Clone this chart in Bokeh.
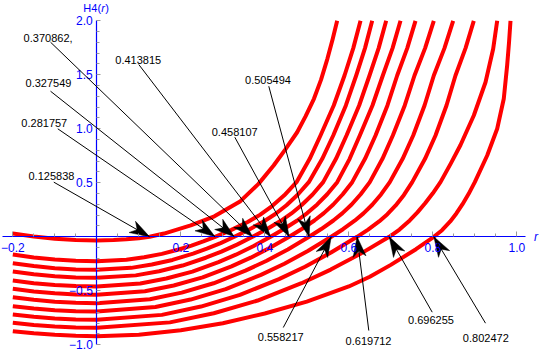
import math
from bokeh.plotting import figure
from bokeh.models import Range1d, LinearAxis, FixedTicker, Label, Arrow, ColumnDataSource
from bokeh.embed import file_html
from bokeh.resources import INLINE

# ---------------- data ----------------
roots = [0.125838, 0.281757, 0.327549, 0.370862, 0.413815, 0.458107,
         0.505494, 0.558217, 0.619712, 0.696255, 0.802472]
root_text = ["0.125838", "0.281757", "0.327549", "0.370862,", "0.413815", "0.458107",
             "0.505494", "0.558217", "0.619712", "0.696255", "0.802472"]

c1_r = [-0.2, -0.15, -0.1, -0.05, 0.0, 0.04, 0.07, 0.1, 0.125838,
        0.16, 0.2236, 0.28, 0.342, 0.385, 0.421, 0.449, 0.477, 0.497, 0.517, 0.534, 0.549, 0.5615, 0.5723]
c1_h = [0.03, 0.002, -0.018, -0.030, -0.034, -0.0306, -0.0235, -0.0126, 0.0,
        0.03, 0.105, 0.19, 0.33, 0.49, 0.66, 0.81, 0.968, 1.115, 1.278, 1.455, 1.648, 1.83, 2.0]

c2_r = [-0.2, -0.15, -0.1, -0.05, 0.0, 0.0704, 0.1127, 0.155, 0.1972, 0.2254, 0.2536, 0.281757,
        0.3205, 0.3593, 0.3883, 0.4174, 0.4464, 0.4755, 0.5069, 0.5326, 0.5641, 0.5898, 0.6107, 0.6279]
c2_h = [-0.164, -0.191, -0.2105, -0.222, -0.226, -0.2124, -0.1898, -0.1582, -0.1153, -0.0814, -0.0429, 0.0,
        0.064, 0.137, 0.203, 0.285, 0.384, 0.506, 0.722, 0.938, 1.216, 1.4935, 1.747, 2.0]

c3_r = [-0.2, -0.15, -0.1, -0.05, 0.0, 0.0819, 0.131, 0.1802, 0.2293, 0.262, 0.2948, 0.327549,
        0.363, 0.3984, 0.425, 0.4516, 0.4782, 0.5048, 0.5368, 0.5629, 0.593, 0.6176, 0.6386, 0.6557]
c3_h = [-0.244, -0.2711, -0.2905, -0.3021, -0.306, -0.2876, -0.257, -0.2142, -0.1561, -0.1102, -0.0581, 0.0,
        0.068, 0.144, 0.211, 0.292, 0.389, 0.506, 0.722, 0.938, 1.216, 1.4935, 1.747, 2.0]

c4_r = [-0.2, -0.15, -0.1, -0.05, 0.0, 0.0927, 0.1483, 0.204, 0.2596, 0.2967, 0.3338, 0.370862,
        0.4045, 0.4381, 0.4634, 0.4886, 0.5138, 0.539, 0.5695, 0.5945, 0.6246, 0.6493, 0.6711, 0.689]
c4_h = [-0.321, -0.3468, -0.3653, -0.3763, -0.380, -0.3572, -0.3192, -0.266, -0.1938, -0.1368, -0.0722, 0.0,
        0.070, 0.148, 0.216, 0.297, 0.392, 0.506, 0.722, 0.938, 1.216, 1.4935, 1.747, 2.0]

c5_r = [-0.2, -0.15, -0.1, -0.05, 0.0, 0.1035, 0.1655, 0.2276, 0.2897, 0.3311, 0.3724, 0.413815,
        0.4455, 0.4772, 0.501, 0.5248, 0.5486, 0.5724, 0.602, 0.6262, 0.6563, 0.681, 0.7042, 0.7231]
c5_h = [-0.405, -0.4291, -0.4463, -0.4566, -0.460, -0.4324, -0.3864, -0.322, -0.2346, -0.1656, -0.0874, 0.0,
        0.072, 0.151, 0.220, 0.300, 0.394, 0.506, 0.722, 0.938, 1.216, 1.4935, 1.747, 2.0]

c6_r = [-0.2, -0.15, -0.1, -0.05, 0.0, 0.1145, 0.1832, 0.252, 0.3207, 0.3665, 0.4123, 0.458107,
        0.4881, 0.5181, 0.5406, 0.5631, 0.5856, 0.6081, 0.6386, 0.6636, 0.692, 0.7152, 0.7392, 0.7588]
c6_h = [-0.481, -0.5055, -0.523, -0.5335, -0.537, -0.5048, -0.4511, -0.3759, -0.2739, -0.1933, -0.102, 0.0,
        0.072, 0.151, 0.219, 0.299, 0.394, 0.506, 0.722, 0.938, 1.216, 1.4935, 1.747, 2.0]

c7_r = [-0.2, -0.15, -0.1, -0.05, 0.0, 0.1264, 0.2022, 0.278, 0.3538, 0.4044, 0.4549, 0.505494,
        0.5344, 0.5633, 0.585, 0.6067, 0.6283, 0.65, 0.6801, 0.7048, 0.7332, 0.7564, 0.7817, 0.8024]
c7_h = [-0.559, -0.5835, -0.601, -0.6115, -0.615, -0.5781, -0.5166, -0.4305, -0.3137, -0.2214, -0.1169, 0.0,
        0.072, 0.151, 0.219, 0.299, 0.394, 0.506, 0.722, 0.938, 1.216, 1.4935, 1.747, 2.0]

c8_r = [-0.2, -0.15, -0.1, -0.05, 0.0, 0.1396, 0.2233, 0.307, 0.3908, 0.4466, 0.5024, 0.558217,
        0.5861, 0.614, 0.6349, 0.6558, 0.6767, 0.6976, 0.7282, 0.7533, 0.7803, 0.8024, 0.8278, 0.8485]
c8_h = [-0.643, -0.6644, -0.6798, -0.6889, -0.692, -0.6505, -0.5813, -0.4844, -0.3529, -0.2491, -0.1315, 0.0,
        0.070, 0.149, 0.217, 0.297, 0.392, 0.506, 0.722, 0.938, 1.216, 1.4935, 1.747, 2.0]

c9_r = [-0.2, -0.15, -0.1, -0.05, 0.0, 0.1549, 0.2479, 0.3408, 0.4338, 0.4958, 0.5577, 0.619712,
        0.646, 0.6722, 0.6919, 0.7116, 0.7313, 0.751, 0.7815, 0.8064, 0.8326, 0.854, 0.878, 0.8976]
c9_h = [-0.719, -0.7409, -0.7565, -0.7659, -0.769, -0.7229, -0.646, -0.5383, -0.3922, -0.2768, -0.1461, 0.0,
        0.067, 0.142, 0.209, 0.290, 0.388, 0.506, 0.722, 0.938, 1.216, 1.4935, 1.747, 2.0]

c10_r = [-0.2, -0.15, -0.1, -0.05, 0.0, 0.1741, 0.2785, 0.3829, 0.4874, 0.557, 0.6266, 0.696255,
         0.7207, 0.7451, 0.7634, 0.7817, 0.8, 0.8183, 0.843, 0.866, 0.8976, 0.9255, 0.9438, 0.9533]
c10_h = [-0.796, -0.8166, -0.8313, -0.8401, -0.843, -0.7924, -0.7081, -0.5901, -0.4299, -0.3035, -0.1602, 0.0,
         0.0675, 0.152, 0.226, 0.310, 0.403, 0.506, 0.68, 0.85, 1.123, 1.431, 1.741, 2.0]

c11_r = [-0.2, -0.15, -0.1, -0.05, 0.0, 0.1, 0.2, 0.3, 0.4, 0.5, 0.6, 0.65, 0.7, 0.76, 0.802472,
         0.822, 0.8415, 0.8561, 0.8708, 0.8854, 0.900, 0.9295, 0.9533, 0.969, 0.977, 0.9815, 0.985]
c11_h = [-0.874, -0.894, -0.908, -0.917, -0.920, -0.906, -0.865, -0.80, -0.71, -0.60, -0.46, -0.37, -0.26, -0.115, 0.0,
         0.061, 0.142, 0.216, 0.302, 0.398, 0.506, 0.753, 1.0, 1.278, 1.586, 1.8, 2.0]

x_ticks = [-0.2, 0.2, 0.4, 0.6, 0.8, 1.0]
x_tick_text = {-0.2: "\u22120.2", 0.2: "0.2", 0.4: "0.4", 0.6: "0.6", 0.8: "0.8", 1.0: "1.0"}
x_minor = [-0.15, -0.1, -0.05, 0.05, 0.1, 0.15, 0.25, 0.3, 0.35, 0.45, 0.5, 0.55,
           0.65, 0.7, 0.75, 0.85, 0.9, 0.95]
y_ticks = [-1.0, -0.5, 0.5, 1.0, 1.5, 2.0]
y_tick_text = {-1.0: "\u22121.0", -0.5: "\u22120.5", 0.5: "0.5", 1.0: "1.0", 1.5: "1.5", 2.0: "2.0"}
y_minor = [-0.9, -0.8, -0.7, -0.6, -0.4, -0.3, -0.2, -0.1, 0.1, 0.2, 0.3, 0.4,
           0.6, 0.7, 0.8, 0.9, 1.1, 1.2, 1.3, 1.4, 1.6, 1.7, 1.8, 1.9]

# ---------------- layout (label / arrow placement) ----------------
label_x = [-0.108, -0.125, -0.115, -0.116, 0.0986, 0.3283, 0.4076, 0.4379, 0.647, 0.7957, 0.9262]
label_y = [0.560, 1.051, 1.424, 1.838, 1.640, 0.968, 1.455, -0.930, -0.968, -0.775, -0.934]
arrow_x0 = [-0.1024, -0.0929, -0.1102, -0.1102, 0.100, 0.3286, 0.4095, 0.444, 0.6476, 0.7986, 0.9255]
arrow_y0 = [0.506, 1.000, 1.348, 1.802, 1.595, 0.922, 1.394, -0.840, -0.868, -0.698, -0.800]

FONT = "Liberation Sans"
BLUE = "#0000FF"
RED = "#FF0000"
W, H = 540, 353
X0, X1 = -0.22929, 1.05643
Y0, Y1 = -1.08056, 2.18796

p = figure(width=W, height=H, x_range=Range1d(X0, X1), y_range=Range1d(Y0, Y1),
           x_axis_type=None, y_axis_type=None,
           output_backend="svg", toolbar_location=None, min_border=0)
p.title.visible = False
p.outline_line_color = None

curves_r = [c1_r, c2_r, c3_r, c4_r, c5_r, c6_r, c7_r, c8_r, c9_r, c10_r, c11_r]
curves_h = [c1_h, c2_h, c3_h, c4_h, c5_h, c6_h, c7_h, c8_h, c9_h, c10_h, c11_h]
for xs, ys in zip(curves_r, curves_h):
    p.line(xs, ys, line_color=RED, line_width=4, line_join="round", line_cap="butt")

xax = LinearAxis(fixed_location=0, bounds=(-0.2245, 1.0207),
                 ticker=FixedTicker(ticks=x_ticks, minor_ticks=x_minor),
                 axis_line_color=BLUE, axis_line_width=1.2,
                 major_tick_line_color="#999999", minor_tick_line_color="#999999",
                 major_tick_in=5, major_tick_out=0, minor_tick_in=3, minor_tick_out=0,
                 major_label_text_color=BLUE, major_label_text_font=FONT,
                 major_label_text_font_size="12px", major_label_standoff=6,
                 major_label_overrides=x_tick_text)
p.add_layout(xax, "below")

yax = LinearAxis(fixed_location=0, bounds=(-1.0, 2.0),
                 ticker=FixedTicker(ticks=y_ticks, minor_ticks=y_minor),
                 axis_line_color=BLUE, axis_line_width=1.2,
                 major_tick_line_color="#999999", minor_tick_line_color="#999999",
                 major_tick_in=4, major_tick_out=0, minor_tick_in=3, minor_tick_out=0,
                 major_label_text_color=BLUE, major_label_text_font=FONT,
                 major_label_text_font_size="12px", major_label_standoff=4,
                 major_label_overrides=y_tick_text)
p.add_layout(yax, "left")

# axis labels
p.add_layout(Label(x=1.0455, y=0, text="r", text_align="center", text_baseline="middle",
                   text_color=BLUE, text_font=FONT, text_font_size="12px", text_font_style="italic"))
p.add_layout(Label(x=0.0102, y=2.1139, text="H4(", text_align="right", text_baseline="middle",
                   text_color=BLUE, text_font=FONT, text_font_size="11px"))
p.add_layout(Label(x=0.0107, y=2.1139, text="r", text_align="left", text_baseline="middle",
                   text_color=BLUE, text_font=FONT, text_font_size="11px", text_font_style="italic"))
p.add_layout(Label(x=0.0202, y=2.1139, text=")", text_align="left", text_baseline="middle",
                   text_color=BLUE, text_font=FONT, text_font_size="11px"))

# arrow shafts pointing to the roots
src = ColumnDataSource(dict(x0=arrow_x0, y0=arrow_y0, x1=roots, y1=[0.0] * len(roots)))
p.add_layout(Arrow(source=src, x_start="x0", y_start="y0", x_end="x1", y_end="y1",
                   line_color="black", line_width=1, end=None))

# dart-shaped arrow heads (size in screen pixels, converted through the plot scales)
sx = W / (X1 - X0)
sy = H / (Y1 - Y0)
HL, HW, NOTCH = 20.0, 6.5, 0.72
head_xs, head_ys = [], []
for ax0, ay0, tx in zip(arrow_x0, arrow_y0, roots):
    dx, dy = (tx - ax0) * sx, (0.0 - ay0) * sy
    L = math.hypot(dx, dy)
    ux, uy = dx / L, dy / L
    nx, ny = -uy, ux
    pts = [(0.0, 0.0),
           (-HL * ux + HW * nx, -HL * uy + HW * ny),
           (-NOTCH * HL * ux, -NOTCH * HL * uy),
           (-HL * ux - HW * nx, -HL * uy - HW * ny)]
    head_xs.append([tx + px / sx for px, py in pts])
    head_ys.append([0.0 + py / sy for px, py in pts])
p.patches(head_xs, head_ys, fill_color="black", line_color="black", line_width=0.5)

for tx, ty, t in zip(label_x, label_y, root_text):
    p.add_layout(Label(x=tx, y=ty, text=t, text_align="center", text_baseline="middle",
                       text_color="black", text_font=FONT, text_font_size="11px"))

open("out.html", "w").write(file_html(p, INLINE))
